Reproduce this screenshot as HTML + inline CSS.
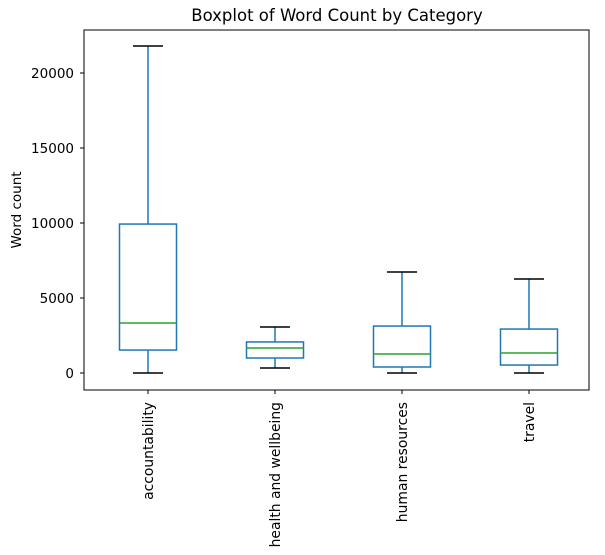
<!DOCTYPE html>
<html><head><meta charset="utf-8"><style>
body{margin:0;background:#fff;}
svg{display:block;font-family:"DejaVu Sans","Liberation Sans",sans-serif;}
</style></head><body>
<svg id="chart" width="605" height="555" xmlns="http://www.w3.org/2000/svg">
<text x="337" y="21" text-anchor="middle" font-size="16.5" fill="#000">Boxplot of Word Count by Category</text>
<text transform="translate(21,210) rotate(-90)" text-anchor="middle" font-size="13.5" fill="#000">Word count</text>
<g id="plot"></g>
</svg>
<script>
const categories = ["accountability","health and wellbeing","human resources","travel"];
const whiskerLow = [0, 330, 0, 0];
const q1 = [1530, 1000, 400, 530];
const medians = [3330, 1670, 1270, 1330];
const q3 = [9930, 2070, 3130, 2930];
const whiskerHigh = [21800, 3070, 6730, 6270];
const yTicks = [0, 5000, 10000, 15000, 20000];

const L=84,R=589,T=30,B=390;
const y = v => 373 - v*0.015;
const x = i => 148 + i*127;
const g = document.getElementById('plot');
const NS='http://www.w3.org/2000/svg';
function mk(tag, attrs){const e=document.createElementNS(NS,tag);for(const k in attrs)e.setAttribute(k,attrs[k]);g.appendChild(e);return e;}

yTicks.forEach(t=>{
  const l=mk('line',{x1:L-4,x2:L,y1:y(t),y2:y(t),stroke:'#000','stroke-width':1});
  
  
  const tx=mk('text',{x:L-10,y:y(t)+5,'text-anchor':'end','font-size':13.5});
  tx.textContent=t;
  
  
});

categories.forEach((c,i)=>{
  const cx=x(i), hw=28.5, cw=15;
  const grp=document.createElementNS(NS,'g');g.appendChild(grp);
  
  
  const add=(tag,a)=>{const e=document.createElementNS(NS,tag);for(const k in a)e.setAttribute(k,a[k]);grp.appendChild(e);return e;};
  add('line',{x1:cx,x2:cx,y1:y(q3[i]),y2:y(whiskerHigh[i]),stroke:'#1f77b4','stroke-width':1.5});
  add('line',{x1:cx,x2:cx,y1:y(q1[i]),y2:y(whiskerLow[i]),stroke:'#1f77b4','stroke-width':1.5});
  add('line',{x1:cx-cw,x2:cx+cw,y1:y(whiskerHigh[i]),y2:y(whiskerHigh[i]),stroke:'#000','stroke-width':1.5});
  add('line',{x1:cx-cw,x2:cx+cw,y1:y(whiskerLow[i]),y2:y(whiskerLow[i]),stroke:'#000','stroke-width':1.5});
  add('rect',{x:cx-hw,y:y(q3[i]),width:hw*2,height:y(q1[i])-y(q3[i]),fill:'none',stroke:'#1f77b4','stroke-width':1.5});
  add('line',{x1:cx-hw,x2:cx+hw,y1:y(medians[i]),y2:y(medians[i]),stroke:'#2ca02c','stroke-width':1.5});
  const tk=mk('line',{x1:cx,x2:cx,y1:B,y2:B+4,stroke:'#000','stroke-width':1});
  
  
  const lb=mk('text',{transform:`translate(${cx+5},${B+12}) rotate(-90)`,'text-anchor':'end','font-size':13.9});
  lb.textContent=c;
  
  
});

const fr=mk('rect',{x:L,y:T,width:R-L,height:B-T,fill:'none',stroke:'#000','stroke-width':1});


</script>
</body></html>
